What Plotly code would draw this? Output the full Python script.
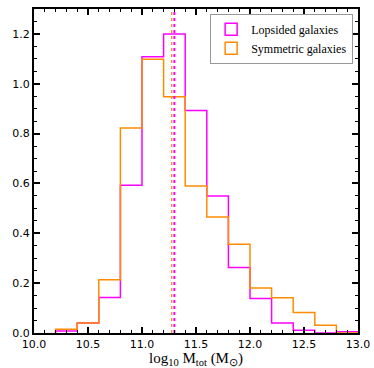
import plotly.graph_objects as go

# bin edges and normalised histogram heights
edges = [10.2, 10.4, 10.6, 10.8, 11.0, 11.2, 11.4, 11.6, 11.8, 12.0, 12.2, 12.4, 12.6, 12.8, 13.0]
lopsided = [0.008, 0.04, 0.142, 0.593, 1.108, 1.2, 0.893, 0.55, 0.263, 0.138, 0.04, 0.011, 0.0, 0.005]
symmetric = [0.015, 0.04, 0.214, 0.823, 1.098, 0.948, 0.59, 0.465, 0.356, 0.181, 0.141, 0.082, 0.031, 0.0]
median_lop = 11.30
median_sym = 11.275

MAGENTA = '#FF00FF'
ORANGE = '#FF8C00'
SERIF = 'Liberation Serif'


def step_xy(edges, vals):
    # outline of a matplotlib style 'step' histogram
    xs = [edges[0]] + list(edges[:-1]) + [edges[-1], edges[-1]]
    ys = [0] + list(vals) + [vals[-1], 0]
    return xs, ys


fig = go.Figure()

for vals, col in [(lopsided, MAGENTA), (symmetric, ORANGE)]:
    xs, ys = step_xy(edges, vals)
    fig.add_trace(go.Scatter(x=xs, y=ys, mode='lines', line_shape='hv',
                             line=dict(color=col, width=1.5), showlegend=False,
                             hoverinfo='skip'))

# median lines
fig.add_trace(go.Scatter(x=[median_sym, median_sym], y=[0, 1.3], mode='lines',
                         line=dict(color=ORANGE, width=1.2, dash='dot'), showlegend=False))
fig.add_trace(go.Scatter(x=[median_lop, median_lop], y=[0, 1.3], mode='lines',
                         line=dict(color=MAGENTA, width=2, dash='dot'), showlegend=False))

# legend patches
for col, name in [(MAGENTA, 'Lopsided galaxies'), (ORANGE, 'Symmetric galaxies')]:
    fig.add_trace(go.Bar(x=[None], y=[None], name=name,
                         marker=dict(color='rgba(0,0,0,0)', line=dict(color=col, width=1.5))))

axis_common = dict(showline=True, linewidth=2, linecolor='black', mirror='allticks',
                   ticks='inside', ticklen=6, tickwidth=1.5, tickcolor='black',
                   showgrid=False, zeroline=False, automargin=False,
                   tickfont=dict(family='DejaVu Sans', size=11, color='black'))

fig.update_layout(
    width=374, height=368,
    margin=dict(l=34, r=16, t=9, b=35),
    paper_bgcolor='white', plot_bgcolor='white',
    xaxis=dict(range=[10.0, 13.0], dtick=0.5, tickformat='.1f',
               minor=dict(dtick=0.1, ticks='inside', ticklen=3, tickcolor='black', tickwidth=1),
               title=dict(text='log<sub>10</sub> M<sub>tot</sub> (M<sub>⊙</sub>)',
                          font=dict(family=SERIF, size=15, color='black')),
               **axis_common),
    yaxis=dict(range=[0, 1.3], dtick=0.2, tickformat='.1f',
               minor=dict(dtick=0.05, ticks='inside', ticklen=3, tickcolor='black', tickwidth=1),
               **axis_common),
    legend=dict(x=0.985, y=0.985, xanchor='right', yanchor='top',
                bordercolor='#999999', borderwidth=1, bgcolor='white',
                font=dict(family=SERIF, size=12, color='black'),
                tracegroupgap=0, itemwidth=30),
    showlegend=True,
)

fig.write_html("out.html", config={'displayModeBar': False},
               post_script="document.body.style.margin='0';")
